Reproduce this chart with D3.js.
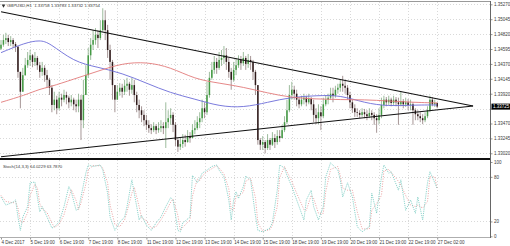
<!DOCTYPE html>
<html>
<head>
<meta charset="utf-8">
<script src="https://cdn.jsdelivr.net/npm/d3@7"></script>
<style>
html, body { margin: 0; padding: 0; background: #fff; }
svg { display: block; font-family: "Liberation Sans", Arial, sans-serif; }
</style>
</head>
<body>
<svg id="chart" width="510" height="246"></svg>
<script>
// GBPUSD, 2-hour samples of the H1 chart, 4 Dec - 27 Dec 2017
var firstOpen = 1.3460;
var closes = [
  1.3466,1.3473,1.3476,1.3470,1.3473,1.3467,1.3463,1.3425,1.3395,1.3420,
  1.3435,1.3443,1.3450,1.3440,1.3446,1.3435,1.3425,1.3431,1.3420,1.3413,
  1.3401,1.3375,1.3383,1.3370,1.3386,1.3383,1.3390,1.3386,1.3379,1.3383,
  1.3376,1.3373,1.3383,1.3352,1.3390,1.3420,1.3450,1.3466,1.3473,1.3481,
  1.3476,1.3488,1.3503,1.3488,1.3458,1.3440,1.3405,1.3383,1.3395,1.3401,
  1.3395,1.3404,1.3407,1.3398,1.3405,1.3390,1.3375,1.3367,1.3360,1.3352,
  1.3345,1.3340,1.3337,1.3343,1.3337,1.3340,1.3343,1.3340,1.3349,1.3355,
  1.3360,1.3345,1.3322,1.3312,1.3316,1.3322,1.3319,1.3328,1.3325,1.3337,
  1.3340,1.3349,1.3355,1.3370,1.3364,1.3390,1.3416,1.3428,1.3440,1.3431,
  1.3443,1.3446,1.3450,1.3440,1.3425,1.3413,1.3428,1.3435,1.3443,1.3438,
  1.3446,1.3437,1.3443,1.3440,1.3425,1.3405,1.3322,1.3315,1.3319,1.3310,
  1.3322,1.3315,1.3325,1.3319,1.3328,1.3325,1.3337,1.3349,1.3367,1.3390,
  1.3398,1.3392,1.3383,1.3376,1.3383,1.3386,1.3379,1.3384,1.3376,1.3360,
  1.3355,1.3364,1.3358,1.3376,1.3383,1.3386,1.3392,1.3389,1.3398,1.3401,
  1.3407,1.3404,1.3401,1.3390,1.3379,1.3370,1.3364,1.3363,1.3360,1.3364,
  1.3361,1.3358,1.3363,1.3360,1.3355,1.3352,1.3360,1.3375,1.3383,1.3379,
  1.3383,1.3378,1.3383,1.3379,1.3376,1.3381,1.3376,1.3379,1.3375,1.3376,
  1.3367,1.3361,1.3358,1.3355,1.3352,1.3358,1.3367,1.3383,1.3376,1.3378,
  1.33725
];
var highs = [
  1.3473,1.3481,1.3484,1.3481,1.3479,1.3476,1.3470,1.3464,1.3425,1.3431,
  1.3446,1.3455,1.3458,1.3452,1.3455,1.3449,1.3440,1.3440,1.3435,1.3428,
  1.3416,1.3405,1.3395,1.3389,1.3395,1.3392,1.3398,1.3395,1.3389,1.3390,
  1.3386,1.3383,1.3392,1.3390,1.3413,1.3435,1.3461,1.3476,1.3488,1.3491,
  1.3488,1.3503,1.3521,1.3518,1.3496,1.3466,1.3443,1.3405,1.3405,1.3408,
  1.3407,1.3413,1.3416,1.3410,1.3416,1.3413,1.3395,1.3383,1.3373,1.3367,
  1.3360,1.3352,1.3346,1.3349,1.3346,1.3349,1.3352,1.3349,1.3379,1.3367,
  1.3370,1.3364,1.3349,1.3325,1.3325,1.3331,1.3330,1.3337,1.3334,1.3346,
  1.3352,1.3358,1.3364,1.3383,1.3379,1.3410,1.3425,1.3440,1.3449,1.3446,
  1.3455,1.3458,1.3464,1.3461,1.3446,1.3431,1.3440,1.3446,1.3450,1.3449,
  1.3455,1.3449,1.3452,1.3449,1.3443,1.3428,1.3405,1.3325,1.3328,1.3322,
  1.3331,1.3325,1.3334,1.3331,1.3337,1.3337,1.3345,1.3358,1.3383,1.3405,
  1.3410,1.3404,1.3398,1.3387,1.3389,1.3392,1.3389,1.3392,1.3387,1.3383,
  1.3370,1.3376,1.3373,1.3386,1.3390,1.3392,1.3401,1.3401,1.3404,1.3407,
  1.3413,1.3419,1.3413,1.3405,1.3395,1.3383,1.3376,1.3370,1.3367,1.3370,
  1.3369,1.3367,1.3370,1.3367,1.3364,1.3361,1.3370,1.3386,1.3389,1.3387,
  1.3389,1.3386,1.3389,1.3387,1.3386,1.3395,1.3384,1.3386,1.3384,1.3383,
  1.3379,1.3370,1.3367,1.3364,1.3361,1.3364,1.3373,1.3389,1.3387,1.3383,
  1.3379
];
var lows = [
  1.3458,1.3463,1.3467,1.3464,1.3464,1.3461,1.3455,1.3416,1.3370,1.3395,
  1.3419,1.3431,1.3434,1.3432,1.3434,1.3428,1.3416,1.3419,1.3410,1.3401,
  1.3390,1.3364,1.3367,1.3361,1.3367,1.3373,1.3379,1.3376,1.3370,1.3373,
  1.3367,1.3364,1.3364,1.3322,1.3340,1.3390,1.3416,1.3443,1.3458,1.3466,
  1.3461,1.3473,1.3485,1.3473,1.3446,1.3413,1.3383,1.3364,1.3383,1.3389,
  1.3386,1.3390,1.3395,1.3389,1.3392,1.3379,1.3364,1.3355,1.3349,1.3343,
  1.3337,1.3333,1.3331,1.3334,1.3331,1.3333,1.3334,1.3331,1.3310,1.3340,
  1.3345,1.3334,1.3313,1.3304,1.3307,1.3310,1.3312,1.3318,1.3318,1.3325,
  1.3331,1.3337,1.3340,1.3349,1.3355,1.3360,1.3386,1.3413,1.3422,1.3422,
  1.3428,1.3434,1.3437,1.3428,1.3416,1.3398,1.3410,1.3420,1.3431,1.3428,
  1.3434,1.3428,1.3431,1.3428,1.3413,1.3390,1.3315,1.3307,1.3307,1.3302,
  1.3307,1.3307,1.3313,1.3310,1.3315,1.3319,1.3325,1.3334,1.3346,1.3364,
  1.3383,1.3383,1.3373,1.3370,1.3373,1.3376,1.3373,1.3376,1.3367,1.3349,
  1.3346,1.3346,1.3337,1.3355,1.3373,1.3376,1.3383,1.3379,1.3386,1.3392,
  1.3395,1.3395,1.3392,1.3383,1.3370,1.3363,1.3357,1.3357,1.3355,1.3357,
  1.3355,1.3352,1.3355,1.3352,1.3345,1.3333,1.3346,1.3355,1.3370,1.3373,
  1.3375,1.3373,1.3375,1.3373,1.3345,1.3373,1.3370,1.3372,1.3367,1.3367,
  1.3345,1.3352,1.3352,1.3349,1.3346,1.3349,1.3355,1.3364,1.3373,1.3372,
  1.3370
];

// moving averages (blue = slow, red = fast), sampled at these bars
var maBars = [0,10,16,20,30,40,50,60,70,80,90,100,110,120,130,140,150,160,170,180];
var maSlow = [1.3454,1.3469,1.3473,1.3469,1.3440,1.3432,1.3423,1.3408,1.3393,1.3384,
              1.3373,1.3371,1.3379,1.3387,1.3389,1.3390,1.3378,1.3373,1.3375,1.3375];
var maFast = [1.3379,1.3390,1.3399,1.3402,1.3414,1.3426,1.3438,1.3440,1.3432,1.3414,
              1.3408,1.3402,1.3393,1.3386,1.3384,1.3383,1.3383,1.3381,1.3379,1.3378];

// triangle trend lines: [bar, price]
var trendUpper = [[0, 1.35158], [194.8, 1.33734]];
var trendLower = [[0, 1.32969], [194.8, 1.33734]];

var priceTicks = [1.35270,1.35045,1.34820,1.34595,1.34370,1.34145,1.33920,1.33695,1.33470,1.33245,1.33020];
var dayTickBars = [0,12,24,36,48,60,72,84,96,108,120,132,144,156,168,180];
var dayLabels = ["4 Dec 2017","5 Dec 19:00","6 Dec 19:00","7 Dec 19:00","8 Dec 19:00",
                 "11 Dec 19:00","12 Dec 19:00","13 Dec 19:00","14 Dec 19:00","15 Dec 19:00",
                 "18 Dec 19:00","19 Dec 19:00","20 Dec 19:00","21 Dec 19:00","22 Dec 19:00","27 Dec 02:00"];

// Stochastic(14,3,3)
var stochBars = [0,2,5,6,7,8,9,11,12,14,15,16,17,19,21,22,24,26,28,29,
  31,32,33,35,36,38,41,42,44,45,47,49,51,52,54,55,57,58,60,62,
  64,66,68,70,71,73,74,75,78,79,81,82,83,85,87,89,90,92,94,95,
  96,97,98,100,101,103,105,106,108,111,112,114,115,117,118,120,122,125,126,128,
  129,131,133,134,136,139,140,141,143,145,147,149,152,153,155,157,158,160,161,164,
  165,167,169,171,172,174,176,177,179,180];
var stochK = [53,42,46,49,26,8,26,40,72,73,53,33,40,26,11,13,19,40,67,60,
  35,37,53,85,96,94,96,89,58,26,8,19,26,40,76,58,22,28,15,8,
  18,26,40,52,49,8,6,18,26,82,72,78,85,89,94,96,89,80,49,22,
  49,60,51,67,81,76,28,8,6,11,19,62,96,92,82,67,49,22,49,62,
  40,22,40,80,99,89,76,53,72,53,13,6,13,58,31,80,96,85,87,62,
  76,35,49,31,53,22,72,87,72,64.02];
var stochD = [55,47,45,47,38,20,18,32,55,70,65,44,37,32,18,12,16,29,52,63,
  48,36,45,70,90,95,95,92,72,42,16,13,22,33,58,66,40,25,21,11,
  13,22,33,46,50,28,8,12,22,54,77,75,81,87,91,95,92,84,64,36,
  35,54,55,59,74,78,52,18,7,9,15,40,79,94,87,74,58,36,35,55,
  51,31,31,60,90,94,82,65,62,62,33,10,10,35,44,55,88,90,86,74,
  69,55,42,40,42,38,47,80,80,63.79];
var stochLevels = [100, 80, 20, 0];

var titleText = "GBPUSD,H1  1.33758 1.33783 1.33732 1.33754";
var stochText = "Stoch(14,3,3) 64.0229 63.7870";

///////////////////////////////////////////////////////////////////////////////
// scales

var svg = d3.select("#chart");
var plotRight = 490.5;
var mainTop = 2, mainBottom = 158;
var stTop = 160, stBottom = 237;

var x = d3.scaleLinear().domain([0, 202.2]).range([1, 491]);
var y = d3.scaleLinear().domain([1.32949, 1.35305]).range([mainBottom, mainTop]);
var ys = d3.scaleLinear().domain([0, 100]).range([236.3, 162]);

var gridColor = "#cfcfcf";
var textColor = "#3a3a3a";
var fontSize = 4.5;
var last = closes[closes.length - 1];

var defs = svg.append("defs");
defs.append("clipPath").attr("id", "clipMain")
  .append("rect").attr("x", 0).attr("y", mainTop).attr("width", plotRight).attr("height", mainBottom - mainTop);
defs.append("clipPath").attr("id", "clipStoch")
  .append("rect").attr("x", 0).attr("y", stTop).attr("width", plotRight).attr("height", stBottom - stTop);

///////////////////////////////////////////////////////////////////////////////
// grids

var grid = svg.append("g").attr("stroke", gridColor).attr("stroke-dasharray", "1,2").attr("stroke-width", 0.8);
grid.selectAll("line.hp").data(priceTicks).enter().append("line")
  .attr("x1", 0).attr("x2", plotRight)
  .attr("y1", function (d) { return Math.round(y(d)) + 0.5; })
  .attr("y2", function (d) { return Math.round(y(d)) + 0.5; });
grid.selectAll("line.vm").data(dayTickBars.slice(1)).enter().append("line")
  .attr("x1", function (d) { return Math.round(x(d)) + 0.5; })
  .attr("x2", function (d) { return Math.round(x(d)) + 0.5; })
  .attr("y1", mainTop).attr("y2", mainBottom);
grid.selectAll("line.vs").data(dayTickBars.slice(1)).enter().append("line")
  .attr("x1", function (d) { return Math.round(x(d)) + 0.5; })
  .attr("x2", function (d) { return Math.round(x(d)) + 0.5; })
  .attr("y1", stTop).attr("y2", stBottom);
grid.selectAll("line.hs").data([80, 20]).enter().append("line")
  .attr("x1", 0).attr("x2", plotRight)
  .attr("y1", function (d) { return Math.round(ys(d)) + 0.5; })
  .attr("y2", function (d) { return Math.round(ys(d)) + 0.5; });

///////////////////////////////////////////////////////////////////////////////
// candles

var bars = closes.map(function (c, i) {
  var o = i ? closes[i - 1] : firstOpen;
  return { i: i, o: o, c: c, h: Math.max(highs[i], o, c), l: Math.min(lows[i], o, c) };
});

var main = svg.append("g").attr("clip-path", "url(#clipMain)");

main.selectAll("line.wick").data(bars).enter().append("line")
  .attr("x1", function (d) { return x(d.i); })
  .attr("x2", function (d) { return x(d.i); })
  .attr("y1", function (d) { return y(d.h); })
  .attr("y2", function (d) { return y(d.l); })
  .attr("stroke", function (d) { return d.c >= d.o ? "#84ab84" : "#8f7b7b"; })
  .attr("stroke-width", 0.8);

main.selectAll("rect.body").data(bars).enter().append("rect")
  .attr("x", function (d) { return x(d.i) - 0.75; })
  .attr("width", 1.5)
  .attr("y", function (d) { return y(Math.max(d.o, d.c)); })
  .attr("height", function (d) { return Math.max(0.7, Math.abs(y(d.o) - y(d.c))); })
  .attr("fill", function (d) { return d.c >= d.o ? "#449a44" : "#2e1a1a"; });

// moving averages
var maLine = function (vals) {
  return d3.line()
    .x(function (d, i) { return x(maBars[i]); })
    .y(function (d) { return y(d); })
    .curve(d3.curveBasis)(vals);
};
main.append("path").attr("d", maLine(maSlow)).attr("fill", "none").attr("stroke", "#6c6cd8").attr("stroke-width", 0.9);
main.append("path").attr("d", maLine(maFast)).attr("fill", "none").attr("stroke", "#e27b7b").attr("stroke-width", 0.9);

// trend lines
[trendUpper, trendLower].forEach(function (t) {
  main.append("line")
    .attr("x1", x(t[0][0])).attr("y1", y(t[0][1]))
    .attr("x2", x(t[1][0])).attr("y2", y(t[1][1]))
    .attr("stroke", "#111").attr("stroke-width", 1.1);
});

///////////////////////////////////////////////////////////////////////////////
// stochastic

var st = svg.append("g").attr("clip-path", "url(#clipStoch)");
var stLine = d3.line()
  .x(function (d, i) { return x(stochBars[i]); })
  .y(function (d) { return ys(d); })
  .curve(d3.curveLinear);
st.append("path").attr("d", stLine(stochD)).attr("fill", "none")
  .attr("stroke", "#e58a8a").attr("stroke-width", 0.8).attr("stroke-dasharray", "1,1.5");
st.append("path").attr("d", stLine(stochK)).attr("fill", "none")
  .attr("stroke", "#72c9bf").attr("stroke-width", 0.8).attr("stroke-dasharray", "1.2,1");

///////////////////////////////////////////////////////////////////////////////
// frame and separators

svg.append("line").attr("x1", 0).attr("x2", plotRight).attr("y1", 1.5).attr("y2", 1.5)
  .attr("stroke", "#9a9a9a").attr("stroke-width", 1);
svg.append("line").attr("x1", 0).attr("x2", plotRight).attr("y1", 159).attr("y2", 159)
  .attr("stroke", "#111").attr("stroke-width", 2);
svg.append("line").attr("x1", 0).attr("x2", plotRight).attr("y1", stBottom + 0.5).attr("y2", stBottom + 0.5)
  .attr("stroke", "#999").attr("stroke-width", 0.8);
svg.append("line").attr("x1", plotRight).attr("x2", plotRight).attr("y1", 1).attr("y2", stBottom + 1)
  .attr("stroke", "#666").attr("stroke-width", 1);

///////////////////////////////////////////////////////////////////////////////
// axes

var styleAxis = function (g) {
  g.select(".domain").remove();
  g.selectAll(".tick line").attr("stroke", "#666").attr("stroke-width", 0.7);
  g.selectAll(".tick text").attr("fill", textColor).attr("font-size", fontSize)
    .attr("font-family", "'Liberation Sans', Arial, sans-serif");
};

var yAxis = svg.append("g").attr("transform", "translate(" + plotRight + ",0)")
  .call(d3.axisRight(y).tickValues(priceTicks).tickSize(2).tickPadding(1.5).tickFormat(d3.format(".5f")))
  .call(styleAxis);
// the label under the current price box is covered in the original
yAxis.selectAll(".tick text").filter(function (d) { return Math.abs(y(d) - y(last)) < 5; }).remove();

svg.append("g").attr("transform", "translate(" + plotRight + ",0)")
  .call(d3.axisRight(ys).tickValues(stochLevels).tickSize(2).tickPadding(1.5).tickFormat(d3.format("d")))
  .call(styleAxis);

var xAxis = svg.append("g").attr("transform", "translate(0," + (stBottom + 1) + ")")
  .call(d3.axisBottom(x).tickValues(dayTickBars).tickSize(1.5).tickPadding(1)
    .tickFormat(function (d, i) { return dayLabels[i]; }))
  .call(styleAxis);
xAxis.selectAll(".tick text").attr("text-anchor", "start").attr("dy", "0.71em");

// current price box
svg.append("rect").attr("x", plotRight + 1).attr("y", y(last) - 3).attr("width", 19).attr("height", 6).attr("fill", "#000");
svg.append("text").attr("x", plotRight + 2.5).attr("y", y(last)).attr("dy", "0.35em")
  .attr("font-size", fontSize).attr("fill", "#fff").text(d3.format(".5f")(last));

// titles
svg.append("path").attr("d", d3.symbol(d3.symbolTriangle, 6)())
  .attr("transform", "translate(3.5,5.5) rotate(180)").attr("fill", "#333");
svg.append("text").attr("x", 7).attr("y", 5.5).attr("dy", "0.35em")
  .attr("font-size", 4.3).attr("fill", textColor).attr("xml:space", "preserve").text(titleText);
svg.append("text").attr("x", 3).attr("y", 166).attr("dy", "0.35em")
  .attr("font-size", 4.3).attr("fill", textColor).text(stochText);
</script>
</body>
</html>
